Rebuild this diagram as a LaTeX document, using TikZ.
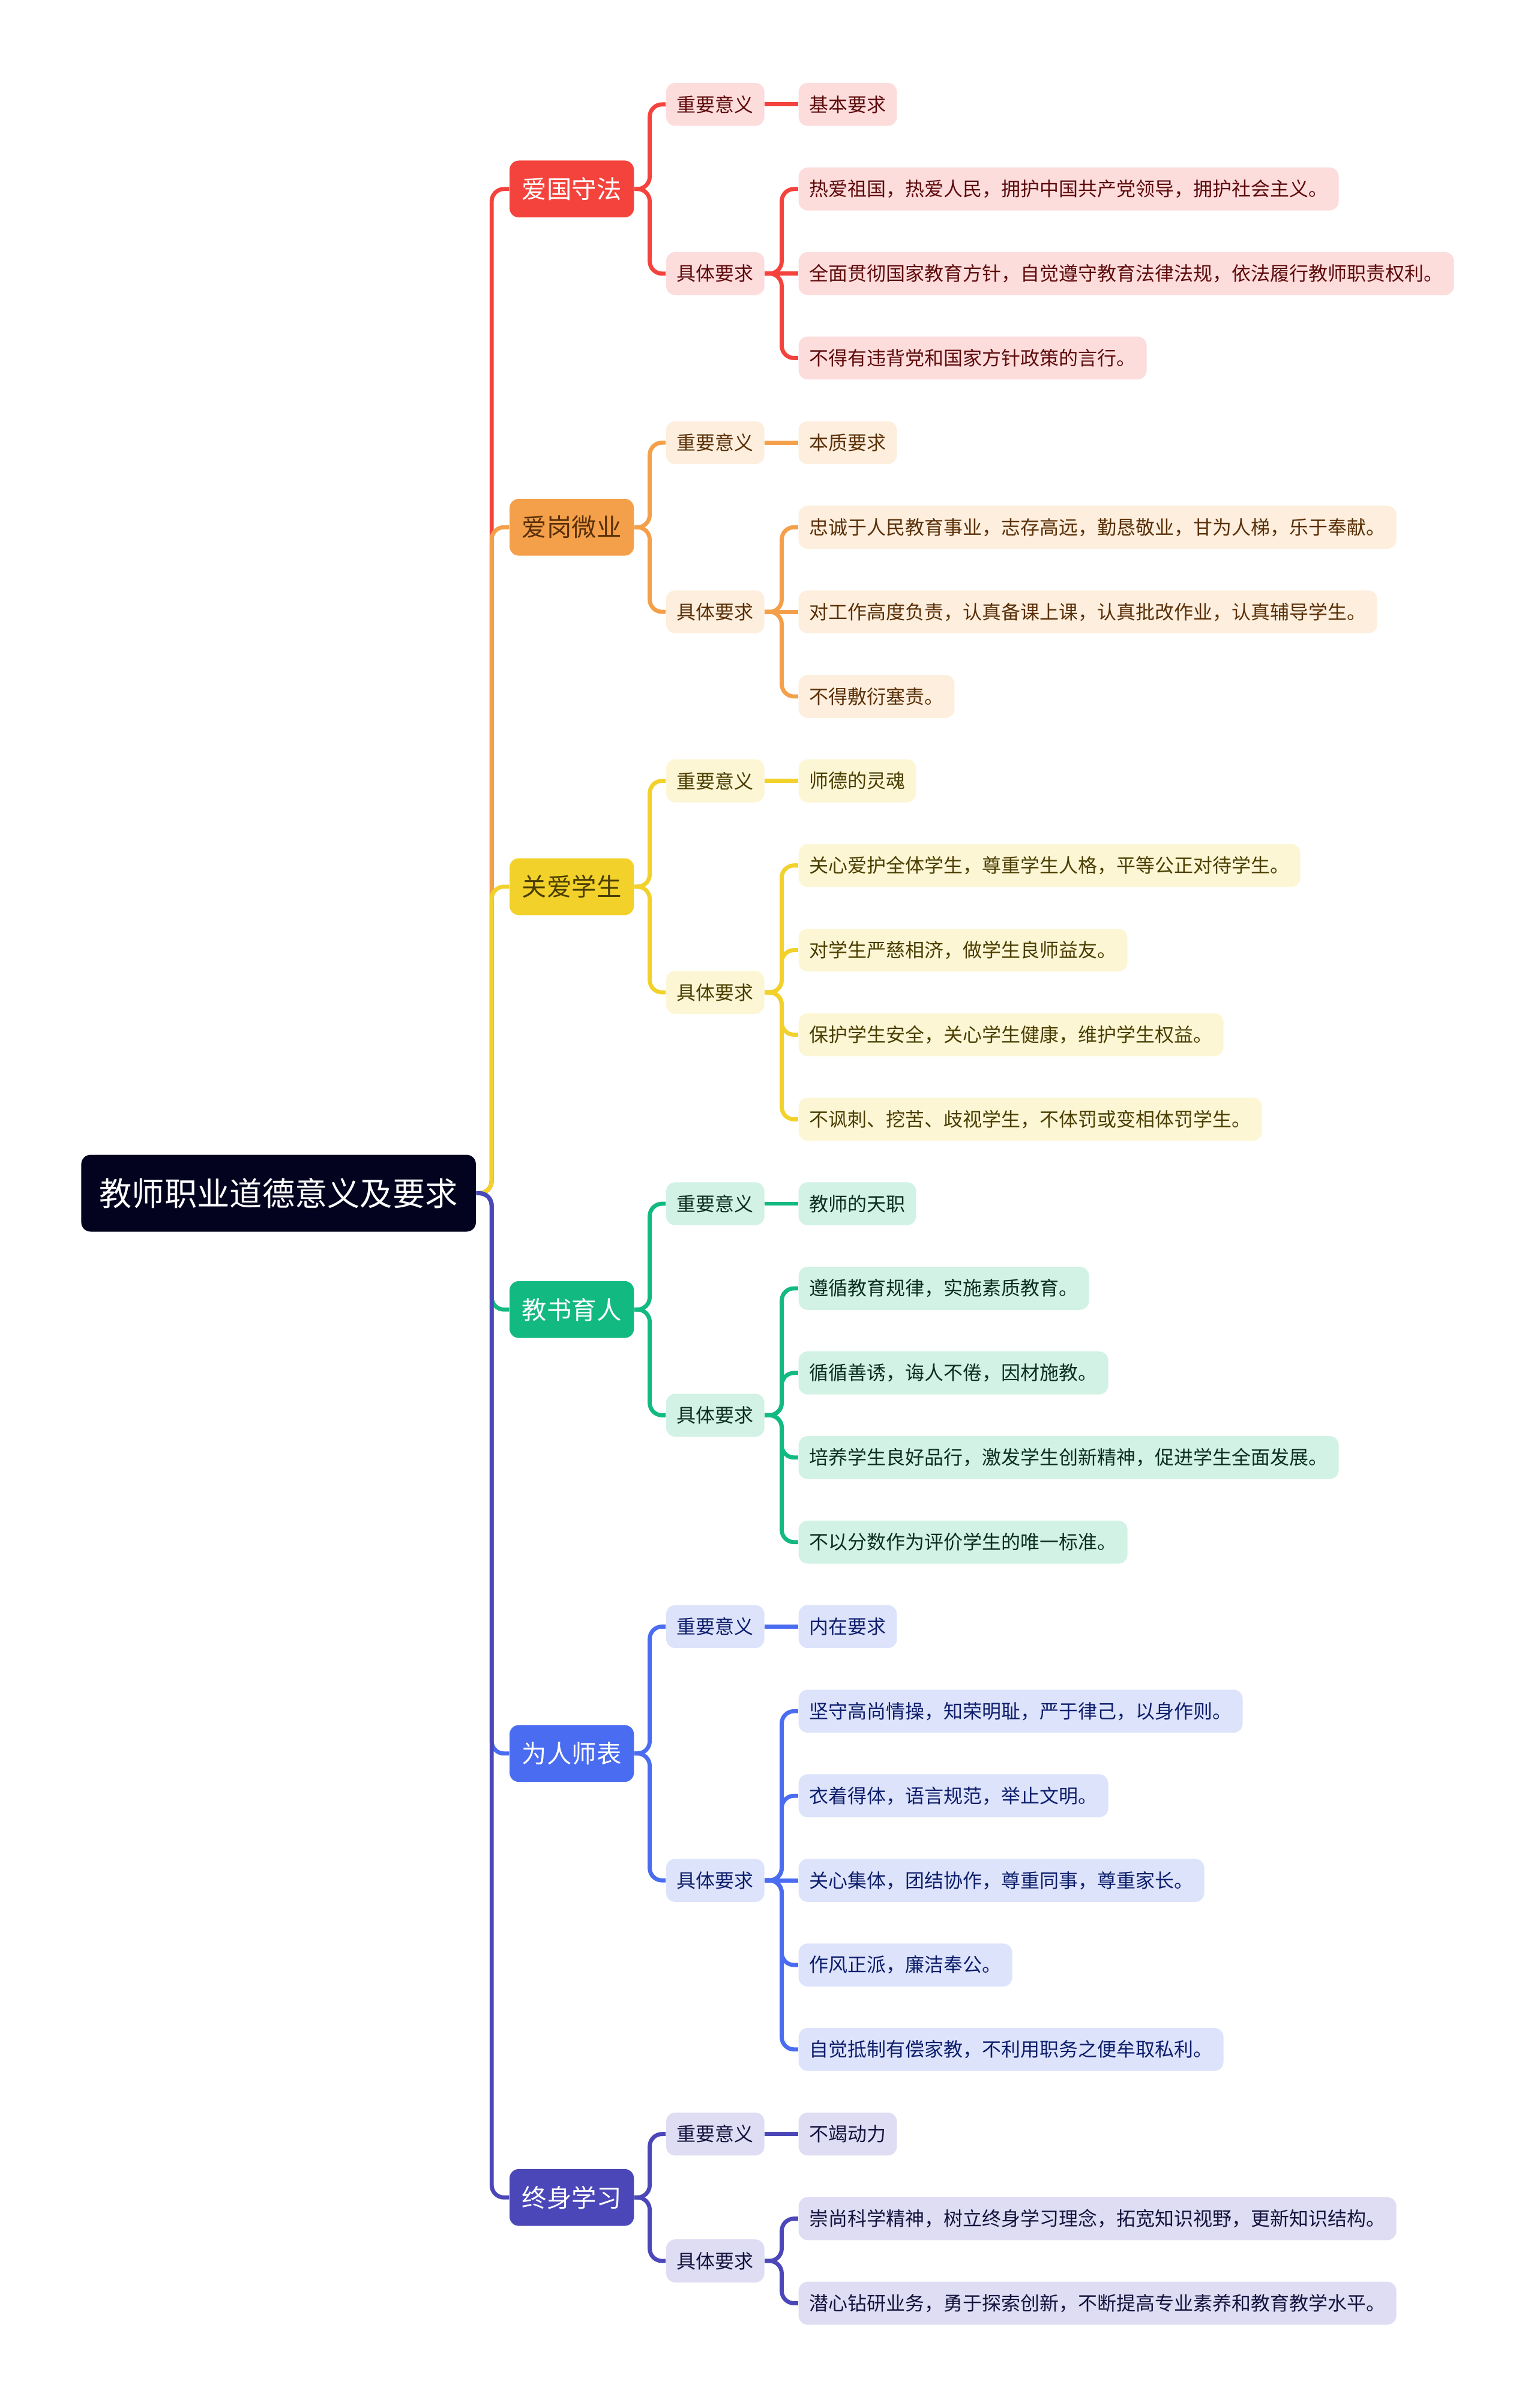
\documentclass[tikz,border=0pt]{standalone}
\usepackage{fontspec}
\setmainfont{Noto Sans CJK SC}
\usetikzlibrary{positioning}
\definecolor{rootc}{HTML}{03021F}
\definecolor{redm}{HTML}{F4433C}
\definecolor{redl}{HTML}{FDDCDC}
\definecolor{redt}{HTML}{5E0B0B}
\definecolor{orgm}{HTML}{F4A04B}
\definecolor{orgl}{HTML}{FDEEDD}
\definecolor{orgt}{HTML}{5A3008}
\definecolor{yelm}{HTML}{F2D12B}
\definecolor{yell}{HTML}{FDF6D5}
\definecolor{yelt}{HTML}{4A3E00}
\definecolor{grnm}{HTML}{12B981}
\definecolor{grnl}{HTML}{D1F2E4}
\definecolor{grnt}{HTML}{0C2E20}
\definecolor{blum}{HTML}{4A6CF0}
\definecolor{blul}{HTML}{DCE3FB}
\definecolor{blut}{HTML}{0E1E6B}
\definecolor{indm}{HTML}{4B47B8}
\definecolor{indl}{HTML}{DEDDF3}
\definecolor{indt}{HTML}{14133E}

\begin{document}
\begin{tikzpicture}[x=0.025cm,y=-0.025cm,
    every node/.style={font=\fontsize{8.9pt}{10pt}\selectfont,rounded corners=0.15cm,inner sep=0pt},
    rootbox/.style={fill=rootc,text=white,font=\fontsize{15.1pt}{18pt}\selectfont,minimum width=6.425cm,minimum height=1.25cm},
    topic/.style={fill=main,text=#1,font=\fontsize{11.5pt}{13pt}\selectfont,minimum width=2.025cm,minimum height=0.925cm},
    topic/.default=white,
    sub/.style={fill=light,text=ink,minimum width=1.6cm,minimum height=0.7cm},
    leaf/.style={fill=light,text=ink,anchor=west,inner xsep=0.175cm,minimum height=0.7cm},
    link/.style={draw=main,line width=1.9pt,rounded corners=0.2cm}]
    \useasboundingbox (0,0) rectangle (1001,1568.35);

    \node[rootbox] (root) at (181.5,777.15) {教师职业道德意义及要求};

    \begin{scope}
        \colorlet{main}{redm}\colorlet{light}{redl}\colorlet{ink}{redt}
        \node[topic] (AGSF) at (372.5,123.1) {爱国守法};
        \node[sub] (AGSFz) at (466,68) {重要意义};
        \node[sub] (AGSFj) at (466,178.2) {具体要求};
        \node[leaf] (AGSFa) at (520,68) {基本要求};
        \node[leaf] (AGSF1) at (520,123.1) {热爱祖国，热爱人民，拥护中国共产党领导，拥护社会主义。};
        \node[leaf] (AGSF2) at (520,178.2) {全面贯彻国家教育方针，自觉遵守教育法律法规，依法履行教师职责权利。};
        \node[leaf] (AGSF3) at (520,233.2) {不得有违背党和国家方针政策的言行。};

        \draw[link] (root.east) -- ++(10,0) |- (AGSF.west);
        \draw[link] (AGSF.east) -- ++(10,0) |- (AGSFz.west);
        \draw[link] (AGSF.east) -- ++(10,0) |- (AGSFj.west);
        \draw[link] (AGSFz) -- (AGSFa);
        \draw[link] (AGSFj.east) -- ++(11,0) |- (AGSF1.west);
        \draw[link] (AGSFj) -- (AGSF2);
        \draw[link] (AGSFj.east) -- ++(11,0) |- (AGSF3.west);
    \end{scope}

    \begin{scope}
        \colorlet{main}{orgm}\colorlet{light}{orgl}\colorlet{ink}{orgt}
        \node[topic=ink] (AGWY) at (372.5,343.4) {爱岗微业};
        \node[sub] (AGWYz) at (466,288.3) {重要意义};
        \node[sub] (AGWYj) at (466,398.5) {具体要求};
        \node[leaf] (AGWYa) at (520,288.3) {本质要求};
        \node[leaf] (AGWY1) at (520,343.4) {忠诚于人民教育事业，志存高远，勤恳敬业，甘为人梯，乐于奉献。};
        \node[leaf] (AGWY2) at (520,398.5) {对工作高度负责，认真备课上课，认真批改作业，认真辅导学生。};
        \node[leaf] (AGWY3) at (520,453.6) {不得敷衍塞责。};

        \draw[link] (root.east) -- ++(10,0) |- (AGWY.west);
        \draw[link] (AGWY.east) -- ++(10,0) |- (AGWYz.west);
        \draw[link] (AGWY.east) -- ++(10,0) |- (AGWYj.west);
        \draw[link] (AGWYz) -- (AGWYa);
        \draw[link] (AGWYj.east) -- ++(11,0) |- (AGWY1.west);
        \draw[link] (AGWYj) -- (AGWY2);
        \draw[link] (AGWYj.east) -- ++(11,0) |- (AGWY3.west);
    \end{scope}

    \begin{scope}
        \colorlet{main}{yelm}\colorlet{light}{yell}\colorlet{ink}{yelt}
        \node[topic=ink] (GAXS) at (372.5,577.5) {关爱学生};
        \node[sub] (GAXSz) at (466,508.6) {重要意义};
        \node[sub] (GAXSj) at (466,646.35) {具体要求};
        \node[leaf] (GAXSa) at (520,508.6) {师德的灵魂};
        \node[leaf] (GAXS1) at (520,563.7) {关心爱护全体学生，尊重学生人格，平等公正对待学生。};
        \node[leaf] (GAXS2) at (520,618.8) {对学生严慈相济，做学生良师益友。};
        \node[leaf] (GAXS3) at (520,673.9) {保护学生安全，关心学生健康，维护学生权益。};
        \node[leaf] (GAXS4) at (520,729.0) {不讽刺、挖苦、歧视学生，不体罚或变相体罚学生。};

        \draw[link] (root.east) -- ++(10,0) |- (GAXS.west);
        \draw[link] (GAXS.east) -- ++(10,0) |- (GAXSz.west);
        \draw[link] (GAXS.east) -- ++(10,0) |- (GAXSj.west);
        \draw[link] (GAXSz) -- (GAXSa);
        \draw[link] (GAXSj.east) -- ++(11,0) |- (GAXS1.west);
        \draw[link] (GAXSj.east) -- ++(11,0) |- (GAXS2.west);
        \draw[link] (GAXSj.east) -- ++(11,0) |- (GAXS3.west);
        \draw[link] (GAXSj.east) -- ++(11,0) |- (GAXS4.west);
    \end{scope}

    \begin{scope}
        \colorlet{main}{grnm}\colorlet{light}{grnl}\colorlet{ink}{grnt}
        \node[topic] (JSYR) at (372.5,852.9) {教书育人};
        \node[sub] (JSYRz) at (466,784.0) {重要意义};
        \node[sub] (JSYRj) at (466,921.75) {具体要求};
        \node[leaf] (JSYRa) at (520,784.0) {教师的天职};
        \node[leaf] (JSYR1) at (520,839.1) {遵循教育规律，实施素质教育。};
        \node[leaf] (JSYR2) at (520,894.2) {循循善诱，诲人不倦，因材施教。};
        \node[leaf] (JSYR3) at (520,949.3) {培养学生良好品行，激发学生创新精神，促进学生全面发展。};
        \node[leaf] (JSYR4) at (520,1004.4) {不以分数作为评价学生的唯一标准。};

        \draw[link] (root.east) -- ++(10,0) |- (JSYR.west);
        \draw[link] (JSYR.east) -- ++(10,0) |- (JSYRz.west);
        \draw[link] (JSYR.east) -- ++(10,0) |- (JSYRj.west);
        \draw[link] (JSYRz) -- (JSYRa);
        \draw[link] (JSYRj.east) -- ++(11,0) |- (JSYR1.west);
        \draw[link] (JSYRj.east) -- ++(11,0) |- (JSYR2.west);
        \draw[link] (JSYRj.east) -- ++(11,0) |- (JSYR3.west);
        \draw[link] (JSYRj.east) -- ++(11,0) |- (JSYR4.west);
    \end{scope}

    \begin{scope}
        \colorlet{main}{blum}\colorlet{light}{blul}\colorlet{ink}{blut}
        \node[topic] (WRSB) at (372.5,1142.05) {为人师表};
        \node[sub] (WRSBz) at (466,1059.4) {重要意义};
        \node[sub] (WRSBj) at (466,1224.7) {具体要求};
        \node[leaf] (WRSBa) at (520,1059.4) {内在要求};
        \node[leaf] (WRSB1) at (520,1114.5) {坚守高尚情操，知荣明耻，严于律己，以身作则。};
        \node[leaf] (WRSB2) at (520,1169.6) {衣着得体，语言规范，举止文明。};
        \node[leaf] (WRSB3) at (520,1224.7) {关心集体，团结协作，尊重同事，尊重家长。};
        \node[leaf] (WRSB4) at (520,1279.8) {作风正派，廉洁奉公。};
        \node[leaf] (WRSB5) at (520,1334.8) {自觉抵制有偿家教，不利用职务之便牟取私利。};

        \draw[link] (root.east) -- ++(10,0) |- (WRSB.west);
        \draw[link] (WRSB.east) -- ++(10,0) |- (WRSBz.west);
        \draw[link] (WRSB.east) -- ++(10,0) |- (WRSBj.west);
        \draw[link] (WRSBz) -- (WRSBa);
        \draw[link] (WRSBj.east) -- ++(11,0) |- (WRSB1.west);
        \draw[link] (WRSBj.east) -- ++(11,0) |- (WRSB2.west);
        \draw[link] (WRSBj) -- (WRSB3);
        \draw[link] (WRSBj.east) -- ++(11,0) |- (WRSB4.west);
        \draw[link] (WRSBj.east) -- ++(11,0) |- (WRSB5.west);
    \end{scope}

    \begin{scope}
        \colorlet{main}{indm}\colorlet{light}{indl}\colorlet{ink}{indt}
        \node[topic] (ZSXX) at (372.5,1431.2) {终身学习};
        \node[sub] (ZSXXz) at (466,1389.9) {重要意义};
        \node[sub] (ZSXXj) at (466,1472.55) {具体要求};
        \node[leaf] (ZSXXa) at (520,1389.9) {不竭动力};
        \node[leaf] (ZSXX1) at (520,1445.0) {崇尚科学精神，树立终身学习理念，拓宽知识视野，更新知识结构。};
        \node[leaf] (ZSXX2) at (520,1500.1) {潜心钻研业务，勇于探索创新，不断提高专业素养和教育教学水平。};

        \draw[link] (root.east) -- ++(10,0) |- (ZSXX.west);
        \draw[link] (ZSXX.east) -- ++(10,0) |- (ZSXXz.west);
        \draw[link] (ZSXX.east) -- ++(10,0) |- (ZSXXj.west);
        \draw[link] (ZSXXz) -- (ZSXXa);
        \draw[link] (ZSXXj.east) -- ++(11,0) |- (ZSXX1.west);
        \draw[link] (ZSXXj.east) -- ++(11,0) |- (ZSXX2.west);
    \end{scope}
\end{tikzpicture}
\end{document}
